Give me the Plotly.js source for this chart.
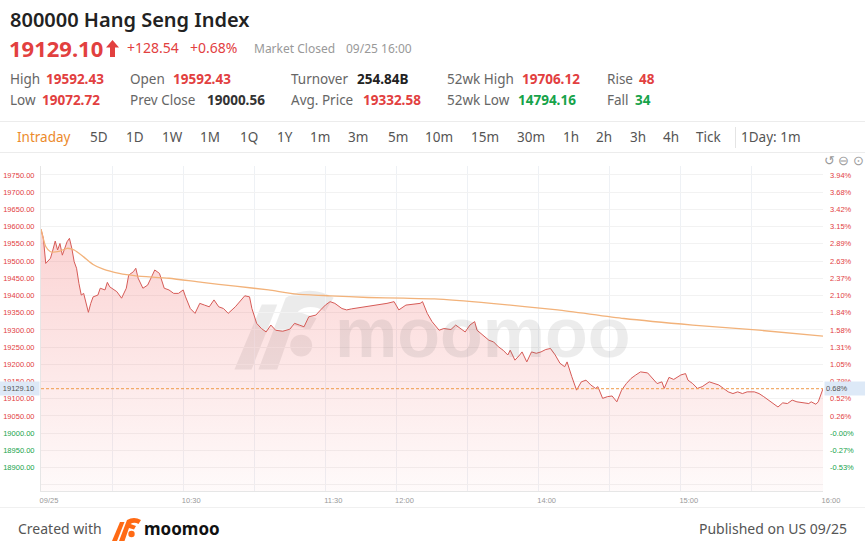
<!DOCTYPE html>
<html>
<head>
<meta charset="utf-8">
<script src="https://cdn.plot.ly/plotly-3.0.1.min.js"></script>
<style>
  body { margin:0; width:865px; height:554px; overflow:hidden; background:#fff; position:relative;
         font-family:'Noto Sans','Open Sans',sans-serif; }
  .t { position:absolute; white-space:nowrap; }
  .hr { position:absolute; left:0; width:865px; height:1px; background:#ececec; }
  #chart { position:absolute; left:0; top:152px; width:865px; height:353px; }
</style>
</head>
<body>
<div id="chart"></div>
<script>
// ---- data ----
var prevClose = 19000.56;
var lastPrice = 19129.10;

var priceTimes = [
  "09:30","09:31","09:32","09:34","09:35","09:36","09:37","09:38","09:39","09:40",
  "09:41","09:42","09:43","09:44","09:45","09:46","09:47","09:48","09:49","09:50",
  "09:51","09:52","09:54","09:55","09:57","09:58","09:59","10:02","10:04","10:06",
  "10:07","10:09","10:10","10:11","10:13","10:15","10:17","10:18","10:20","10:22",
  "10:24","10:26","10:28","10:30","10:31","10:33","10:35","10:37","10:39","10:41",
  "10:43","10:45","10:47","10:49","10:52","10:54","10:56","10:58","10:59","11:01",
  "11:03","11:05","11:07","11:09","11:12","11:15","11:17","11:19","11:21","11:23",
  "11:26","11:28","11:30","11:32","11:34","11:37","11:39","11:41","11:44","11:47",
  "11:50","11:53","11:56","11:59","13:01","13:04","13:07","13:10","13:11","13:13",
  "13:15","13:18","13:20","13:23","13:25","13:27","13:29","13:31","13:33","13:34",
  "13:37","13:39","13:41","13:43","13:45","13:47","13:48","13:50","13:52","13:53",
  "13:55","13:57","13:59","14:01","14:03","14:05","14:07","14:09","14:11","14:12",
  "14:14","14:16","14:18","14:20","14:22","14:24","14:25","14:27","14:29","14:31",
  "14:33","14:35","14:37","14:39","14:41","14:43","14:46","14:48","14:50","14:52",
  "14:53","14:55","14:57","15:00","15:02","15:03","15:05","15:07","15:09","15:12",
  "15:14","15:16","15:18","15:20","15:22","15:24","15:26","15:28","15:31","15:33",
  "15:35","15:37","15:39","15:41","15:43","15:45","15:47","15:49","15:52","15:54",
  "15:55","15:57","15:58","16:00"
];
var prices = [
  19592.43,19566,19493,19508,19532,19558,19532,19551,19517,19537,
  19556,19566,19537,19498,19479,19435,19401,19406,19382,19351,
  19377,19396,19401,19421,19416,19438,19425,19411,19392,19421,
  19459,19469,19479,19450,19421,19430,19459,19474,19464,19421,
  19416,19406,19406,19416,19396,19362,19348,19377,19372,19367,
  19387,19367,19362,19348,19367,19382,19399,19396,19362,19319,
  19304,19294,19314,19299,19296,19302,19319,19314,19309,19338,
  19343,19358,19372,19382,19377,19362,19358,19361,19364,19367,
  19370,19372,19377,19382,19358,19372,19374,19377,19382,19348,
  19324,19299,19304,19301,19314,19304,19294,19314,19324,19299,
  19280,19270,19265,19251,19241,19227,19241,19212,19227,19236,
  19207,19236,19232,19236,19243,19246,19227,19203,19193,19207,
  19164,19125,19149,19154,19140,19130,19135,19101,19106,19108,
  19091,19125,19144,19159,19169,19178,19175,19159,19144,19149,
  19130,19162,19156,19169,19173,19154,19144,19130,19135,19149,
  19144,19140,19130,19120,19115,19120,19115,19120,19120,19115,
  19106,19096,19086,19076,19088,19086,19096,19091,19088,19086,
  19091,19084,19091,19129.10
];

var avgTimes = ["09:30","09:32","09:34","09:38","09:41","09:44","09:48","09:52","09:56","10:03",
                "10:10","10:24","10:38","10:52","11:06","11:18","11:32","11:48","13:03","13:16",
                "13:40","14:08","14:36","15:05","15:33","16:00"];
var avgPrices = [19592.43,19542,19527,19529,19537,19532,19512,19490,19477,19464,
                 19457,19450,19438,19427,19416,19404,19399,19394,19392,19390,
                 19377,19358,19333,19314,19299,19282];

var yTickVals = [18850,18900,18950,19000,19050,19100,19150,19200,19250,19300,19350,
                 19400,19450,19500,19550,19600,19650,19700,19750];
var xTickTimes = ["09:30","10:00","10:30","11:00","11:30","12:00","13:30","14:00","14:30","15:00","15:30","16:00"];
var xTickText  = ["09/25","","10:30","","11:30","12:00","","14:00","","15:00","","16:00"];

var tabs = ["Intraday","5D","1D","1W","1M","1Q","1Y","1m","3m","5m","10m","15m","30m","1h","2h","3h","4h","Tick","1Day: 1m"];
var tabX = [17,90,126,162,200,240,277,310,348,388,425,471,517,563,596,630,663,696,741];

var RED = "#e2403f", GREEN = "#16a34a", GREY = "#666";

// ---- header (plain html) ----
function put(text, x, yc, size, color, weight) {
  var el = document.createElement("div");
  el.className = "t";
  el.textContent = text;
  var lh = Math.round(size * 1.4);
  el.style.left = x + "px";
  el.style.top = (yc - lh / 2) + "px";
  el.style.lineHeight = lh + "px";
  el.style.fontSize = size + "px";
  el.style.color = color;
  el.style.fontWeight = weight || 400;
  document.body.appendChild(el);
  return el;
}
function rule(cls, css) {
  var el = document.createElement("div");
  el.className = cls;
  el.style.cssText = css;
  document.body.appendChild(el);
}

put("800000 Hang Seng Index", 10, 20, 20, "#222", 600);
put("19129.10", 9, 48, 22, RED, 700);
put("+128.54", 127, 48, 14, RED);
put("+0.68%", 190, 48, 14, RED);
put("Market Closed", 254, 48, 12, "#999");
put("09/25 16:00", 346, 48, 12, "#999");

var arrow = document.createElement("div");
arrow.className = "t";
arrow.style.cssText = "left:106px;top:40px;";
arrow.innerHTML = '<svg width="13" height="17"><path d="M6.5 0 L13 7.5 L9 7.5 L9 17 L4 17 L4 7.5 L0 7.5 Z" fill="' + RED + '"/></svg>';
document.body.appendChild(arrow);

var statRow1 = [["High",10,"19592.43",46,RED],["Open",130,"19592.43",173,RED],["Turnover",291,"254.84B",357,"#222"],
                ["52wk High",447,"19706.12",522,RED],["Rise",607,"48",639,RED]];
var statRow2 = [["Low",10,"19072.72",42,RED],["Prev Close",130,"19000.56",207,"#333"],["Avg. Price",291,"19332.58",363,RED],
                ["52wk Low",447,"14794.16",518,GREEN],["Fall",607,"34",635,GREEN]];
statRow1.forEach(function(s){ put(s[0], s[1], 79, 13.5, GREY); put(s[2], s[3], 79, 13.5, s[4], 700); });
statRow2.forEach(function(s){ put(s[0], s[1], 100, 13.5, GREY); put(s[2], s[3], 100, 13.5, s[4], 700); });

rule("hr", "top:121px;");
rule("hr", "top:152px;");
rule("t", "left:735px;top:127px;width:1px;height:21px;background:#e4e4e4;");
tabs.forEach(function(t, i){ put(t, tabX[i], 137, 13.5, i === 0 ? "#ec8a2c" : "#555"); });
put("\u21BA \u2296 \u2299", 824, 161, 12.5, "#9a9a9a");

rule("hr", "top:507px;background:#f0f0f0;");
put("Created with", 18, 529, 14, "#555");
var logo = document.createElement("div");
logo.className = "t";
logo.style.cssText = "left:111px;top:517px;";
logo.innerHTML = '<svg width="32" height="24" viewBox="0 0 32 24">' +
  '<path d="M1 24 L9 5 L13.5 5 L6 24 Z" fill="#ff6a14"/>' +
  '<path d="M8 24 L16 3 Q23 -1 30 3 L27.5 7 Q23 4.5 19.5 7 L25 9 L23 12.5 L18 11 L13.5 24 Z" fill="#ff6a14"/>' +
  '<circle cx="20.5" cy="17" r="3.2" fill="#ff6a14"/></svg>';
document.body.appendChild(logo);
put("moomoo", 144, 529, 17, "#111", 700);
var pub = put("Published on US 09/25", 0, 529, 14, "#555");
pub.style.left = ""; pub.style.right = "18px";

// ---- chart ----
function sessionMin(hhmm) {
  var p = hhmm.split(":"), t = (+p[0]) * 60 + (+p[1]);
  return t <= 720 ? t - 570 : t - 780 + 150;   // lunch break collapsed
}
function colorFor(v) { return v > prevClose ? RED : GREEN; }

var leftText = yTickVals.map(function(v){
  return v < 18900 ? "" : '<span style="color:' + colorFor(v) + '">' + v.toFixed(2) + '</span>';
});
var rightText = yTickVals.map(function(v){
  if (v < 18900) return "";
  var pct = (v - prevClose) / prevClose * 100;
  return '<span style="color:' + colorFor(v) + '">' + pct.toFixed(2) + '%</span>';
});

var yRange = [18832, 19776];

var priceTrace = {
  type: "scatter", mode: "lines",
  x: priceTimes.map(sessionMin), y: prices,
  line: { color: "#d65b57", width: 1 },
  fill: "tozeroy",
  fillgradient: {
    type: "vertical", start: 18832, stop: 19600,
    colorscale: [[0, "rgba(240,90,90,0.03)"], [1, "rgba(240,90,90,0.27)"]]
  },
  hoverinfo: "skip"
};
var avgTrace = {
  type: "scatter", mode: "lines",
  x: avgTimes.map(sessionMin), y: avgPrices,
  line: { color: "#f2b27a", width: 1.3, shape: "spline", smoothing: 0.6 },
  hoverinfo: "skip"
};
var axisTrace = { type: "scatter", mode: "lines", x: [0], y: [lastPrice], yaxis: "y2",
                  line: { width: 0 }, hoverinfo: "skip", showlegend: false };

var tickFont = { family: "Liberation Sans, Arial, sans-serif", size: 7.5, color: "#999" };

var layout = {
  width: 865, height: 353,
  margin: { l: 41, r: 42, t: 14, b: 14, pad: 0 },
  paper_bgcolor: "#fff", plot_bgcolor: "#fff",
  showlegend: false,
  xaxis: {
    range: [0, 330], tickmode: "array",
    tickvals: xTickTimes.map(sessionMin), ticktext: xTickText,
    ticks: "", showgrid: true, gridcolor: "#eef1f5", gridwidth: 1,
    showline: true, linecolor: "#e6e6e6", zeroline: false,
    tickfont: tickFont, ticklabelshift: 8, ticklabelstandoff: 2, fixedrange: true
  },
  yaxis: {
    range: yRange, tickmode: "array", tickvals: yTickVals, ticktext: leftText,
    ticks: "", showgrid: true, gridcolor: "#f2f2f2", zeroline: false,
    showline: true, linecolor: "#e6e6e6",
    tickfont: tickFont, ticklabelstandoff: 4, fixedrange: true
  },
  yaxis2: {
    overlaying: "y", side: "right", range: yRange,
    tickmode: "array", tickvals: yTickVals, ticktext: rightText,
    ticks: "", showgrid: false, zeroline: false, showline: false,
    tickfont: tickFont, ticklabelstandoff: 6, fixedrange: true
  },
  shapes: [{
    type: "line", xref: "paper", x0: 0, x1: 1, yref: "y", y0: lastPrice, y1: lastPrice,
    line: { color: "#ef9a4a", width: 1, dash: "3px,2px" }
  }],
  images: [{
    source: "data:image/svg+xml;utf8," + encodeURIComponent(
      '<svg xmlns="http://www.w3.org/2000/svg" width="110" height="82" viewBox="0 0 32 24">' +
      '<path d="M1 24 L9 5 L13.5 5 L6 24 Z" fill="#8a8a8a"/>' +
      '<path d="M8 24 L16 3 Q23 -1 30 3 L27.5 7 Q23 4.5 19.5 7 L25 9 L23 12.5 L18 11 L13.5 24 Z" fill="#8a8a8a"/>' +
      '<circle cx="20.5" cy="17" r="3.2" fill="#8a8a8a"/></svg>'),
    xref: "paper", yref: "paper", x: 0.243, y: 0.63, sizex: 0.14, sizey: 0.26,
    xanchor: "left", yanchor: "top", sizing: "contain", opacity: 0.16, layer: "below"
  }],
  annotations: [
    { xref: "paper", yref: "paper", x: 0.565, y: 0.485, text: "moomoo", showarrow: false,
      font: { family: "Liberation Sans, Arial, sans-serif", size: 70, color: "rgba(110,110,110,0.13)", weight: 700 } },
    { xref: "paper", yref: "y", x: 0, y: lastPrice, xanchor: "right", xshift: -1,
      text: "19129.10", showarrow: false, bgcolor: "#dde9f7", width: 39, height: 11,
      font: { family: "Liberation Sans, Arial, sans-serif", size: 7.5, color: "#555" } },
    { xref: "paper", yref: "y", x: 1, y: lastPrice, xanchor: "left", xshift: 1,
      text: "0.68%", showarrow: false, bgcolor: "#dde9f7", width: 40, height: 11, align: "left",
      font: { family: "Liberation Sans, Arial, sans-serif", size: 7.5, color: "#555" } }
  ]
};

Plotly.newPlot("chart", [priceTrace, avgTrace, axisTrace], layout, { displayModeBar: false, staticPlot: true });
</script>
</body>
</html>
